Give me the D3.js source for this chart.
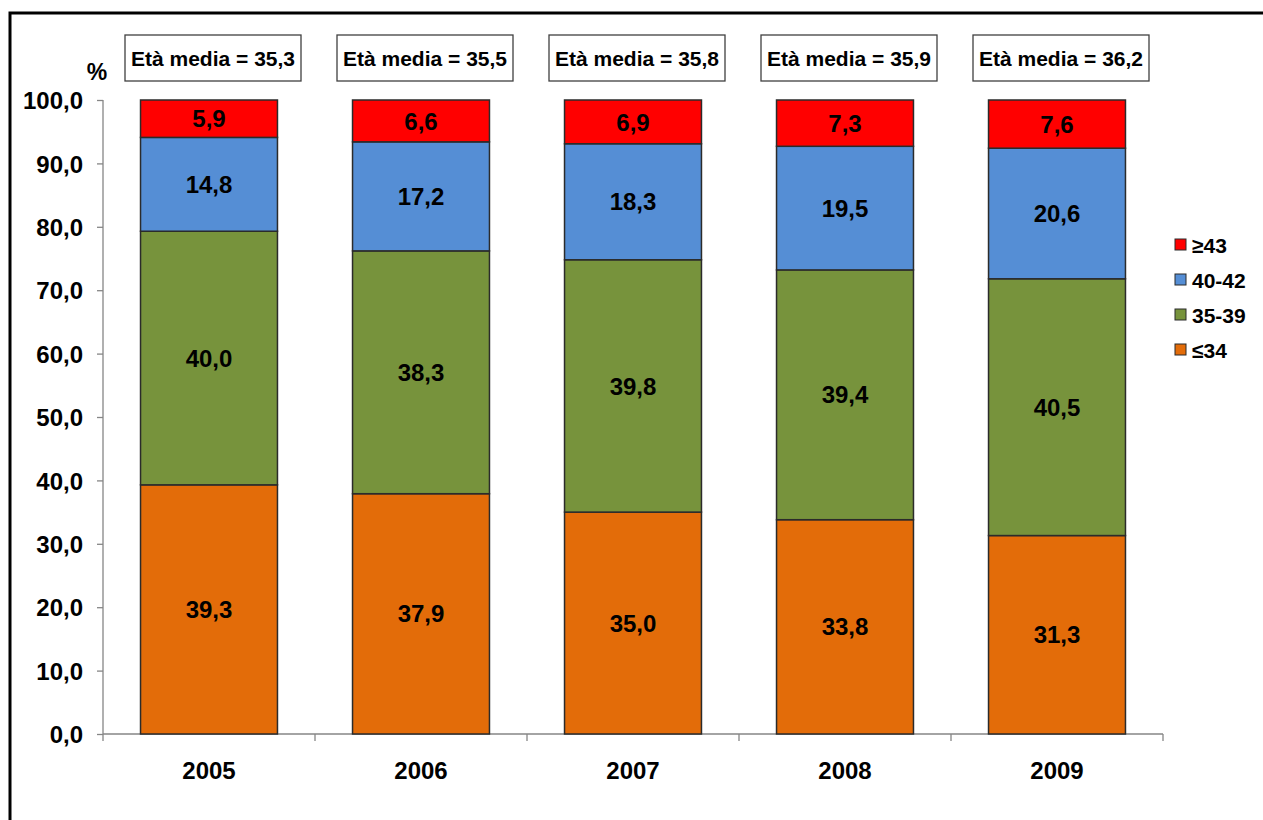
<!DOCTYPE html>
<html>
<head>
<meta charset="utf-8">
<script src="https://cdn.jsdelivr.net/npm/d3@7"></script>
<style>
  body { margin: 0; background: #fff; }
  svg text { font-family: "Liberation Sans", Arial, sans-serif; font-weight: bold; fill: #000; }
</style>
</head>
<body>
<div id="chart"></div>
<script>
const years = ["2005", "2006", "2007", "2008", "2009"];
const groups = ["≤34", "35-39", "40-42", "≥43"];
const le34 = [39.3, 37.9, 35.0, 33.8, 31.3];
const g35_39 = [40.0, 38.3, 39.8, 39.4, 40.5];
const g40_42 = [14.8, 17.2, 18.3, 19.5, 20.6];
const ge43 = [5.9, 6.6, 6.9, 7.3, 7.6];
const meanAge = [35.3, 35.5, 35.8, 35.9, 36.2];
const yTicks = [0, 10, 20, 30, 40, 50, 60, 70, 80, 90, 100];
const colors = ["#E36C09", "#77933C", "#558ED5", "#FF0000"];

const w = 1263, h = 820;
const margin = {left: 103, top: 100, right: 100, bottom: 86};

const svg = d3.select("#chart").append("svg")
    .attr("width", w)
    .attr("height", h);

// outer frame (only left and top edges fall inside the picture)
svg.append("path")
    .attr("d", `M10,${h}V13H${w}`)
    .attr("fill", "none")
    .attr("stroke", "#000")
    .attr("stroke-width", 3);

const rows = years.map((y, i) => ({
    year: y,
    "≤34": le34[i], "35-39": g35_39[i], "40-42": g40_42[i], "≥43": ge43[i]
}));
const stacked = d3.stack().keys(groups)(rows);

const x = d3.scaleBand()
    .domain(years)
    .range([margin.left, w - margin.right])
    .paddingInner(0.354)
    .paddingOuter(0.177);

const y = d3.scaleLinear()
    .domain([0, 100])
    .range([h - margin.bottom, margin.top]);

const color = d3.scaleOrdinal().domain(groups).range(colors);
const fmt = v => d3.format(".1f")(v).replace(".", ",");

// y axis
const yAxis = svg.append("g")
    .attr("transform", `translate(${margin.left},0)`)
    .call(d3.axisLeft(y).tickValues(yTicks).tickFormat(fmt).tickSize(6).tickPadding(14));
yAxis.selectAll("path, line").attr("stroke", "#868686").attr("stroke-width", 1.3);
yAxis.selectAll("text").style("font-size", "24px").attr("dy", "0.36em");
yAxis.select(".domain").attr("d", `M0,${margin.top}V${h - margin.bottom}`);

// x axis with ticks between categories
const xAxis = svg.append("g")
    .attr("transform", `translate(0,${h - margin.bottom})`);
xAxis.append("line")
    .attr("x1", margin.left).attr("x2", w - margin.right)
    .attr("stroke", "#868686").attr("stroke-width", 1.3);
const step = x.step();
xAxis.selectAll(".xt")
    .data(d3.range(years.length + 1))
    .enter().append("line")
    .attr("x1", i => margin.left + i * step)
    .attr("x2", i => margin.left + i * step)
    .attr("y1", 0).attr("y2", 7)
    .attr("stroke", "#868686").attr("stroke-width", 1.3);
xAxis.selectAll(".xl")
    .data(years)
    .enter().append("text")
    .attr("x", d => x(d) + x.bandwidth() / 2)
    .attr("y", 45)
    .attr("text-anchor", "middle")
    .style("font-size", "24px")
    .text(d => d);

// bars
const layer = svg.selectAll(".layer")
    .data(stacked)
    .enter().append("g")
    .attr("class", "layer")
    .attr("fill", d => color(d.key));

layer.selectAll("rect")
    .data(d => d)
    .enter().append("rect")
    .attr("x", d => x(d.data.year))
    .attr("y", d => y(d[1]))
    .attr("width", x.bandwidth())
    .attr("height", d => y(d[0]) - y(d[1]))
    .attr("stroke", "#2b2b2b")
    .attr("stroke-width", 1.5);

layer.selectAll("text")
    .data(d => d.map(s => ({s: s, key: d.key})))
    .enter().append("text")
    .attr("x", d => x(d.s.data.year) + x.bandwidth() / 2)
    .attr("y", d => y((d.s[0] + d.s[1]) / 2))
    .attr("dy", "0.36em")
    .attr("text-anchor", "middle")
    .style("font-size", "24px")
    .text(d => fmt(d.s.data[d.key]));

// mean age boxes
const boxes = svg.selectAll(".mean")
    .data(years)
    .enter().append("g")
    .attr("class", "mean")
    .attr("transform", d => `translate(${x(d) + x.bandwidth() / 2 + 4},58)`);
boxes.append("rect")
    .attr("x", -88).attr("y", -23)
    .attr("width", 176).attr("height", 46)
    .attr("fill", "#fff")
    .attr("stroke", "#404040")
    .attr("stroke-width", 1.3);
boxes.append("text")
    .attr("text-anchor", "middle")
    .attr("dy", "0.36em")
    .style("font-size", "21px")
    .text((d, i) => "Età media = " + fmt(meanAge[i]));

// % label
svg.append("text")
    .attr("x", 97).attr("y", 80)
    .attr("text-anchor", "middle")
    .style("font-size", "23px")
    .text("%");

// legend
const legend = svg.selectAll(".leg")
    .data(groups.slice().reverse())
    .enter().append("g")
    .attr("class", "leg")
    .attr("transform", (d, i) => `translate(1175,${245 + 35 * i})`);
legend.append("rect")
    .attr("x", 0).attr("y", -6)
    .attr("width", 11).attr("height", 11)
    .attr("fill", d => color(d))
    .attr("stroke", "#2b2b2b")
    .attr("stroke-width", 1);
legend.append("text")
    .attr("x", 17)
    .attr("dy", "0.36em")
    .style("font-size", "21px")
    .text(d => d);
</script>
</body>
</html>
